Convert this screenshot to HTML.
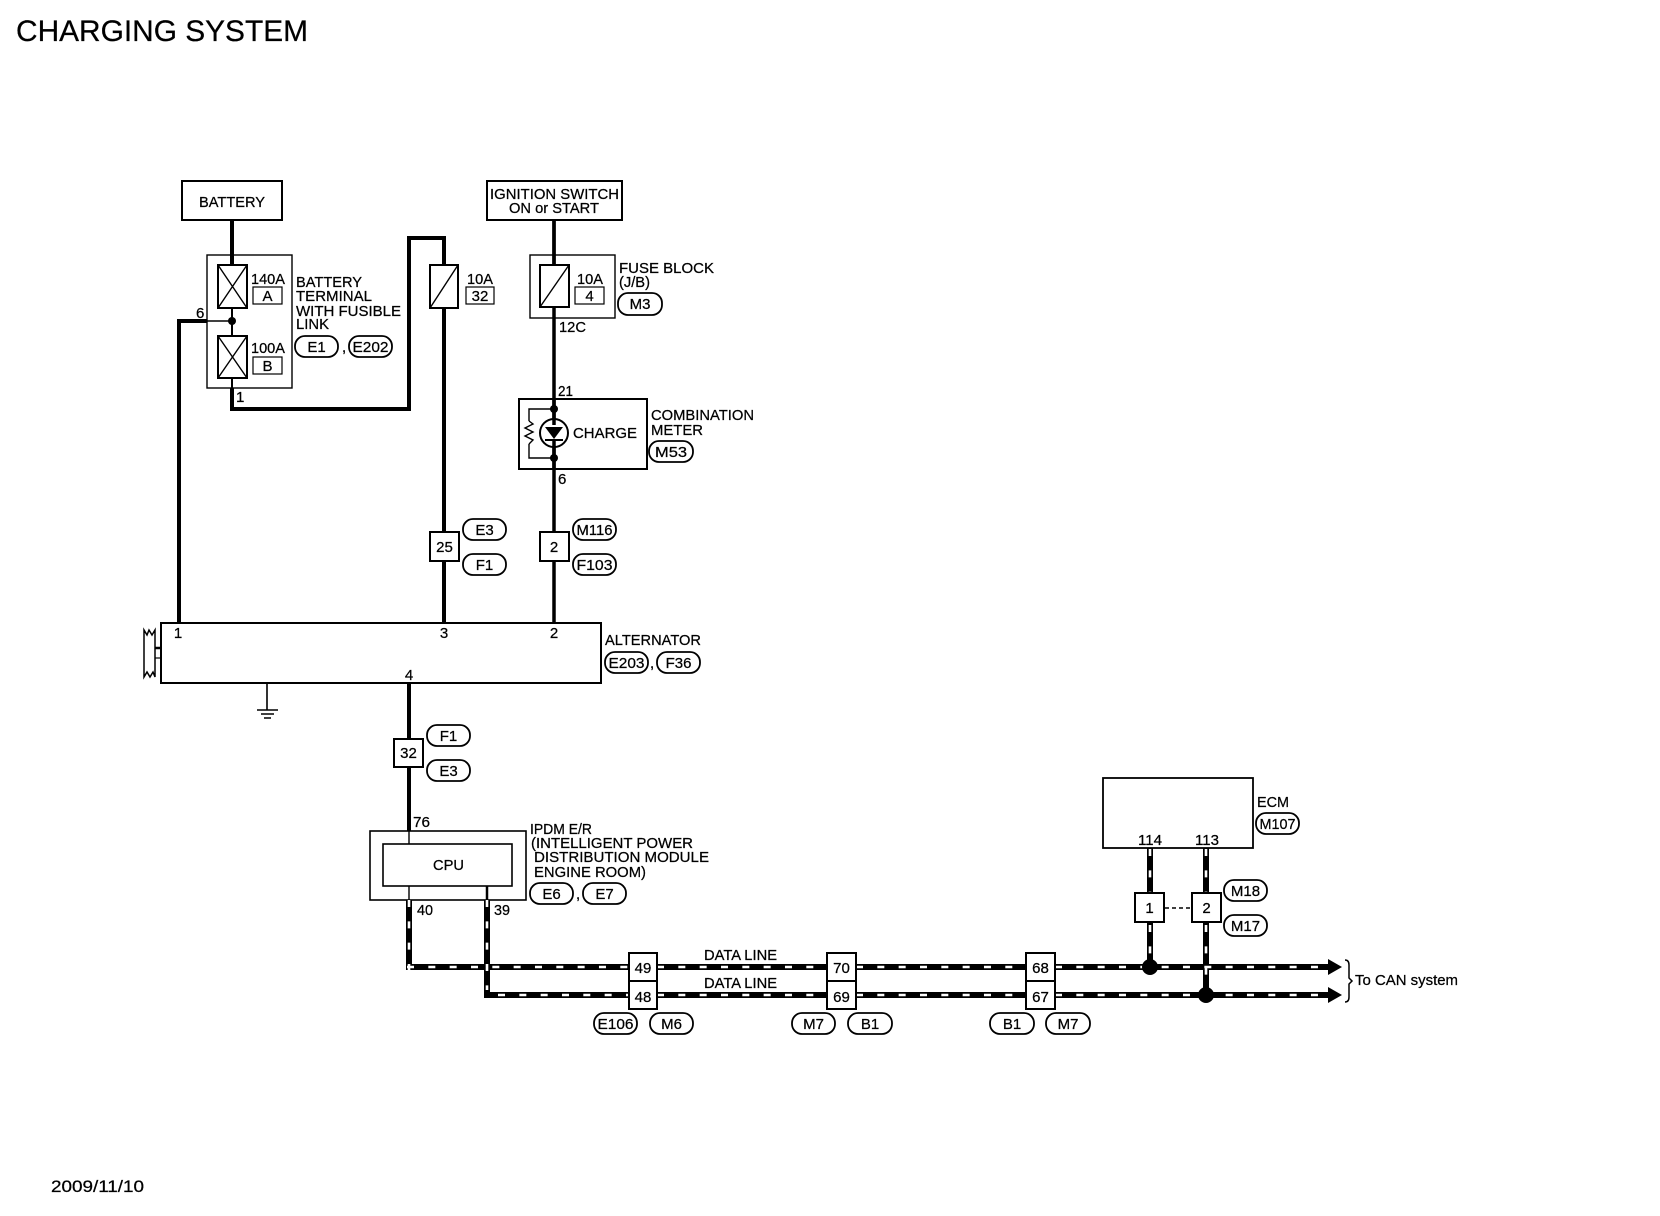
<!DOCTYPE html>
<html><head><meta charset="utf-8"><style>
html,body{margin:0;padding:0;background:#fff}
svg{display:block}
text{font-family:"Liberation Sans",sans-serif;font-size:15px;fill:#000;stroke:#000;stroke-width:.25}
.c{text-anchor:middle}
.p rect{fill:#fff;stroke:#000;stroke-width:1.8}
.b{fill:#fff;stroke:#000;stroke-width:2}
.t{fill:#fff;stroke:#000;stroke-width:1.2}
.w{fill:none;stroke:#000;stroke-width:4}
.n{fill:none;stroke:#000;stroke-width:1.4}
.d{fill:none;stroke:#000;stroke-width:6}
.e{fill:none;stroke:#fff;stroke-width:2.6;stroke-dasharray:7 14.33}
</style></head><body>
<svg width="1660" height="1216" viewBox="0 0 1660 1216" xmlns="http://www.w3.org/2000/svg">
<text x="16" y="41" style="font-size:30px" textLength="292" lengthAdjust="spacingAndGlyphs">CHARGING SYSTEM</text>
<text x="51" y="1192" style="font-size:17px" textLength="93" lengthAdjust="spacingAndGlyphs">2009/11/10</text>

<!-- wires -->
<path class="w" d="M232 388V409H409V238H444V265"/>
<path class="w" d="M444 308V622"/>
<path class="w" d="M179 622V321H207"/>
<path class="w" d="M554 220V265" style="stroke-width:3.5"/>
<path class="w" d="M554 307V622" style="stroke-width:3.5"/>
<path class="w" d="M409 683V831"/>

<!-- battery -->
<rect class="b" x="182" y="181" width="100" height="39"/>
<text x="199" y="207" textLength="66" lengthAdjust="spacingAndGlyphs">BATTERY</text>
<rect x="207" y="255" width="85" height="133" fill="none" stroke="#000" stroke-width="1.4"/>
<path class="w" d="M232 220V265"/>
<path class="n" d="M232 308V336M232 378V388" style="stroke-width:2"/>
<path class="n" d="M207 321H232"/>
<circle cx="232" cy="321" r="4"/>
<rect class="b" x="218" y="265" width="29" height="43"/>
<path class="n" d="M218 308L247 265M218 265L247 308"/>
<rect class="b" x="218" y="336" width="29" height="42"/>
<path class="n" d="M218 378L247 336M218 336L247 378"/>
<text x="251" y="284" textLength="34" lengthAdjust="spacingAndGlyphs">140A</text>
<rect class="t" x="253" y="287" width="29" height="17"/><text class="c" x="267.500" y="301">A</text>
<text x="251" y="353" textLength="34" lengthAdjust="spacingAndGlyphs">100A</text>
<rect class="t" x="253" y="357" width="29" height="17"/><text class="c" x="267.500" y="371">B</text>
<text x="296" y="287" textLength="66" lengthAdjust="spacingAndGlyphs">BATTERY</text>
<text x="296" y="301" textLength="76" lengthAdjust="spacingAndGlyphs">TERMINAL</text>
<text x="296" y="316" textLength="105" lengthAdjust="spacingAndGlyphs">WITH FUSIBLE</text>
<text x="296" y="329" textLength="33" lengthAdjust="spacingAndGlyphs">LINK</text>
<g class="p"><rect x="295" y="336" width="43" height="21" rx="10"/><rect x="349" y="336" width="43" height="21" rx="10"/></g>
<text class="c" x="316.500" y="352">E1</text><text x="342" y="352">,</text><text class="c" x="370.500" y="352" textLength="36" lengthAdjust="spacingAndGlyphs">E202</text>
<text x="196" y="318">6</text>
<text x="236" y="402">1</text>

<!-- 10A 32 -->
<rect class="b" x="430" y="265" width="28" height="43"/>
<path class="n" d="M430 308L458 265"/>
<text x="467" y="284" textLength="26" lengthAdjust="spacingAndGlyphs">10A</text>
<rect class="t" x="466" y="287" width="28" height="17"/><text class="c" x="480" y="301">32</text>

<!-- ignition -->
<rect class="b" x="487" y="181" width="135" height="39"/>
<text x="490" y="199" textLength="129" lengthAdjust="spacingAndGlyphs">IGNITION SWITCH</text>
<text x="509" y="213" textLength="90" lengthAdjust="spacingAndGlyphs">ON or START</text>
<rect x="530" y="255" width="85" height="63" fill="none" stroke="#000" stroke-width="1.4"/>
<path class="w" d="M554 220V265" style="stroke-width:3.5"/>
<rect class="b" x="540" y="265" width="29" height="42"/>
<path class="n" d="M540 307L569 265"/>
<text x="577" y="284" textLength="26" lengthAdjust="spacingAndGlyphs">10A</text>
<rect class="t" x="575" y="287" width="29" height="17"/><text class="c" x="589.500" y="301">4</text>
<text x="619" y="273" textLength="95" lengthAdjust="spacingAndGlyphs">FUSE BLOCK</text>
<text x="619" y="287" textLength="31" lengthAdjust="spacingAndGlyphs">(J/B)</text>
<g class="p"><rect x="618" y="293" width="44" height="22" rx="10"/></g><text class="c" x="640" y="309">M3</text>
<text x="559" y="332" textLength="27" lengthAdjust="spacingAndGlyphs">12C</text>

<!-- combination meter -->
<text x="558" y="396" textLength="15" lengthAdjust="spacingAndGlyphs">21</text>
<rect x="519" y="399" width="128" height="70" fill="none" stroke="#000" stroke-width="2"/>
<path class="n" d="M554 409H529V421M529 444V458H554"/>
<path class="n" d="M529 421L533 424L525 428L533 432L525 436L533 440L529 444"/>
<circle cx="554" cy="433" r="14" fill="#fff" stroke="#000" stroke-width="2"/>
<path class="w" d="M554 399V425M554 441V469" style="stroke-width:3.500"/>
<path d="M545 427H563L554 439Z"/>
<path d="M545 440H563" stroke="#000" stroke-width="2"/>
<circle cx="554" cy="409" r="4"/><circle cx="554" cy="458" r="4"/>
<text x="573" y="438" textLength="64" lengthAdjust="spacingAndGlyphs">CHARGE</text>
<text x="651" y="420" textLength="103" lengthAdjust="spacingAndGlyphs">COMBINATION</text>
<text x="651" y="435" textLength="52" lengthAdjust="spacingAndGlyphs">METER</text>
<g class="p"><rect x="649" y="441" width="44" height="21" rx="10"/></g><text class="c" x="671" y="457" textLength="32" lengthAdjust="spacingAndGlyphs">M53</text>
<text x="558" y="484">6</text>

<!-- connectors 25 / 2 -->
<rect class="b" x="430" y="532" width="29" height="29"/><text class="c" x="444.500" y="552">25</text>
<g class="p"><rect x="463" y="519" width="43" height="21" rx="10"/><rect x="463" y="554" width="43" height="21" rx="10"/></g>
<text class="c" x="484.500" y="535">E3</text><text class="c" x="484.500" y="570">F1</text>
<rect class="b" x="540" y="532" width="29" height="29"/><text class="c" x="554" y="552">2</text>
<g class="p"><rect x="573" y="519" width="43" height="21" rx="10"/><rect x="573" y="554" width="43" height="21" rx="10"/></g>
<text class="c" x="594.500" y="535" textLength="36" lengthAdjust="spacingAndGlyphs">M116</text><text class="c" x="594.500" y="570" textLength="36" lengthAdjust="spacingAndGlyphs">F103</text>

<!-- alternator -->
<rect class="b" x="161" y="623" width="440" height="60"/>
<text class="c" x="178" y="638">1</text><text class="c" x="444" y="638">3</text><text class="c" x="554" y="638">2</text><text class="c" x="409" y="680">4</text>
<text x="605" y="645" textLength="96" lengthAdjust="spacingAndGlyphs">ALTERNATOR</text>
<g class="p"><rect x="605" y="652" width="43" height="21" rx="10"/><rect x="657" y="652" width="43" height="21" rx="10"/></g>
<text class="c" x="626.500" y="668" textLength="36" lengthAdjust="spacingAndGlyphs">E203</text><text x="650" y="668">,</text><text class="c" x="678.500" y="668">F36</text>
<path d="M144 630V677L147 672L150 677L153 672L155 677V630L152 635L149 630L147 635Z" fill="#fff" stroke="#000" stroke-width="1.500"/>
<path d="M155 648H161" stroke="#000" stroke-width="2.500"/><path d="M155 658H161" stroke="#000" stroke-width="1.200"/>
<path class="n" d="M267 683V710M257 710H278M261 714H274M264 718H271" style="stroke-width:1.600"/>

<rect class="b" x="394" y="739" width="29" height="28"/><text class="c" x="408.500" y="758">32</text>
<g class="p"><rect x="427" y="725" width="43" height="21" rx="10"/><rect x="427" y="760" width="43" height="21" rx="10"/></g>
<text class="c" x="448.500" y="741">F1</text><text class="c" x="448.500" y="776">E3</text>
<text x="413" y="827" textLength="17" lengthAdjust="spacingAndGlyphs">76</text>

<!-- IPDM -->
<rect x="370" y="831" width="156" height="69" fill="#fff" stroke="#000" stroke-width="1.600"/>
<rect x="383" y="844" width="129" height="42" fill="#fff" stroke="#000" stroke-width="1.600"/>
<path class="n" d="M409 831V844M409 886V900"/>
<path d="M487 886V900" stroke="#000" stroke-width="2.500"/>
<text x="433" y="870" textLength="31" lengthAdjust="spacingAndGlyphs">CPU</text>
<text x="530" y="834" textLength="62" lengthAdjust="spacingAndGlyphs">IPDM E/R</text>
<text x="531" y="848" textLength="162" lengthAdjust="spacingAndGlyphs">(INTELLIGENT POWER</text>
<text x="534" y="862" textLength="175" lengthAdjust="spacingAndGlyphs">DISTRIBUTION MODULE</text>
<text x="534" y="877" textLength="112" lengthAdjust="spacingAndGlyphs">ENGINE ROOM)</text>
<g class="p"><rect x="530" y="883" width="43" height="21" rx="10"/><rect x="583" y="883" width="43" height="21" rx="10"/></g>
<text class="c" x="551.500" y="899">E6</text><text x="576" y="899">,</text><text class="c" x="604.500" y="899">E7</text>
<text x="417" y="915" textLength="16" lengthAdjust="spacingAndGlyphs">40</text>
<text x="494" y="915" textLength="16" lengthAdjust="spacingAndGlyphs">39</text>

<!-- data lines -->
<path class="d" d="M409 900V967H1332"/>
<path class="d" d="M487 900V995H1332"/>
<path class="d" d="M1150 848V967"/>
<path class="d" d="M1206 848V995"/>
<path class="e" d="M409 900V972"/>
<path class="e" d="M407 967H629"/>
<path class="e" d="M657 967H827"/>
<path class="e" d="M856 967H1026"/>
<path class="e" d="M1055 967H1328"/>
<path class="e" d="M487 900V990"/>
<path class="e" d="M498 995H629"/>
<path class="e" d="M657 995H827"/>
<path class="e" d="M856 995H1026"/>
<path class="e" d="M1055 995H1328"/>
<path class="e" d="M1150 849V893"/>
<path class="e" d="M1150 925V955"/>
<path class="e" d="M1206 849V893"/>
<path class="e" d="M1206 925V975"/>
<path d="M1328 959L1342 967L1328 975ZM1328 987L1342 995L1328 1003Z"/>
<circle cx="1150" cy="967" r="8"/><circle cx="1206" cy="995" r="8"/>
<path d="M1345 960Q1349 960 1349 965V978L1352 981L1349 984V997Q1349 1002 1345 1002" fill="none" stroke="#000" stroke-width="1.500"/>
<text x="1355" y="985" textLength="103" lengthAdjust="spacingAndGlyphs">To CAN system</text>

<g class="b">
<rect x="629" y="953" width="28" height="28"/><rect x="629" y="981" width="28" height="28"/>
<rect x="827" y="953" width="29" height="28"/><rect x="827" y="981" width="29" height="28"/>
<rect x="1026" y="953" width="29" height="28"/><rect x="1026" y="981" width="29" height="28"/>
</g>
<text class="c" x="643" y="973">49</text><text class="c" x="643" y="1002">48</text>
<text class="c" x="841.500" y="973">70</text><text class="c" x="841.500" y="1002">69</text>
<text class="c" x="1040.500" y="973">68</text><text class="c" x="1040.500" y="1002">67</text>
<text x="704" y="960" textLength="73" lengthAdjust="spacingAndGlyphs">DATA LINE</text>
<text x="704" y="988" textLength="73" lengthAdjust="spacingAndGlyphs">DATA LINE</text>
<g class="p">
<rect x="594" y="1013" width="43" height="21" rx="10"/><rect x="650" y="1013" width="43" height="21" rx="10"/>
<rect x="792" y="1013" width="43" height="21" rx="10"/><rect x="848" y="1013" width="44" height="21" rx="10"/>
<rect x="990" y="1013" width="44" height="21" rx="10"/><rect x="1046" y="1013" width="44" height="21" rx="10"/>
</g>
<text class="c" x="615.500" y="1029" textLength="36" lengthAdjust="spacingAndGlyphs">E106</text><text class="c" x="671.500" y="1029">M6</text>
<text class="c" x="813.500" y="1029">M7</text><text class="c" x="870" y="1029">B1</text>
<text class="c" x="1012" y="1029">B1</text><text class="c" x="1068" y="1029">M7</text>

<!-- ECM -->
<rect x="1103" y="778" width="150" height="70" fill="#fff" stroke="#000" stroke-width="1.800"/>
<text x="1257" y="807" textLength="32" lengthAdjust="spacingAndGlyphs">ECM</text>
<g class="p"><rect x="1256" y="813" width="43" height="21" rx="10"/></g><text class="c" x="1277.500" y="829" textLength="36" lengthAdjust="spacingAndGlyphs">M107</text>
<text x="1138" y="845" textLength="24" lengthAdjust="spacingAndGlyphs">114</text>
<text x="1195" y="845" textLength="24" lengthAdjust="spacingAndGlyphs">113</text>
<rect class="b" x="1135" y="893" width="29" height="29"/><text class="c" x="1149.500" y="913">1</text>
<rect class="b" x="1192" y="893" width="29" height="29"/><text class="c" x="1206.500" y="913">2</text>
<path d="M1165 908H1192" stroke="#000" stroke-width="1.500" stroke-dasharray="4 3"/>
<g class="p"><rect x="1224" y="880" width="43" height="21" rx="10"/><rect x="1224" y="915" width="43" height="21" rx="10"/></g>
<text class="c" x="1245.500" y="896">M18</text><text class="c" x="1245.500" y="931">M17</text>
</svg>
</body></html>
